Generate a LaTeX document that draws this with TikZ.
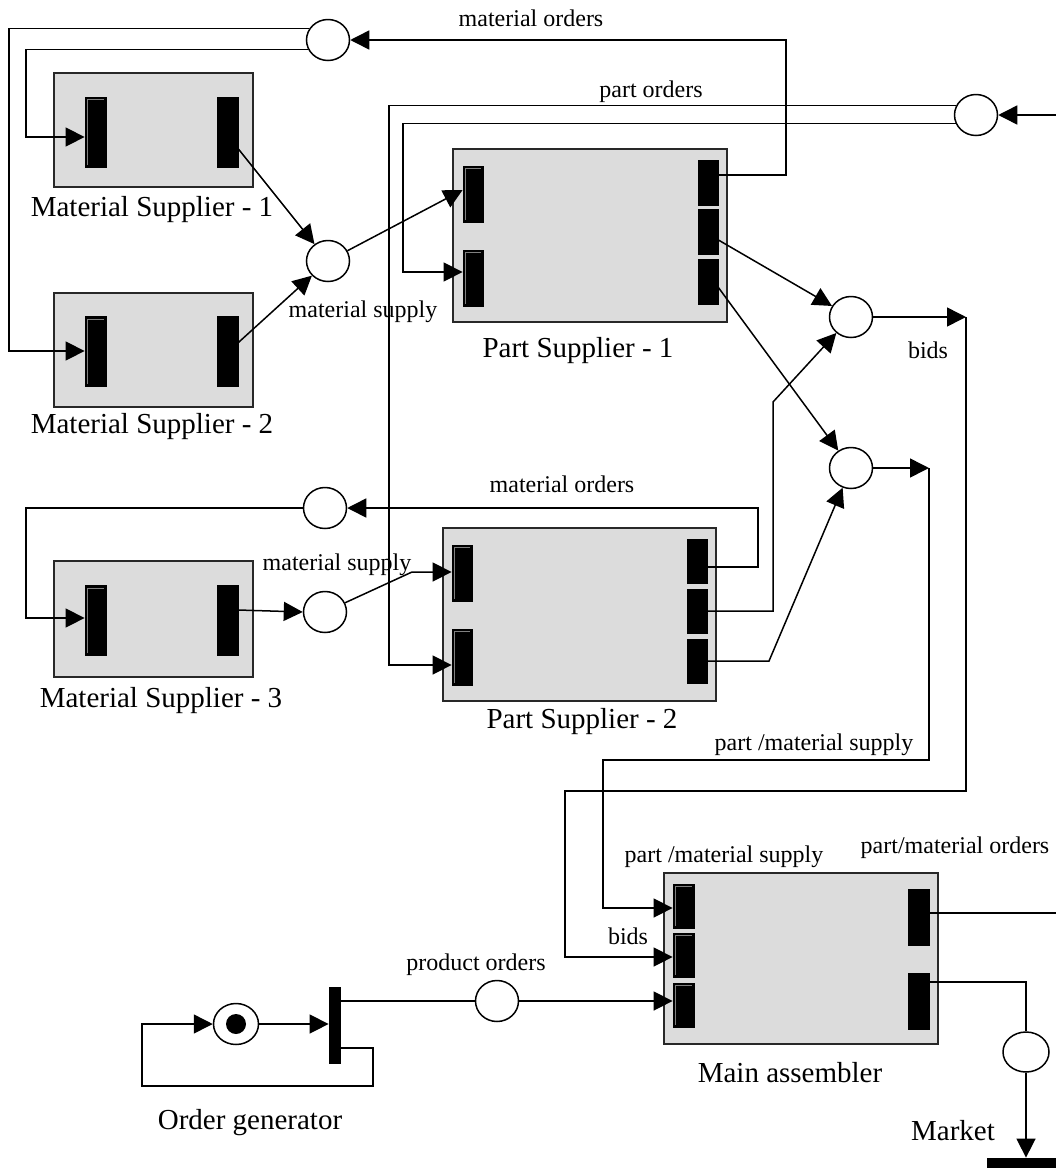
\documentclass[tikz,border=0pt]{standalone}
\usepackage{fontspec}
\setmainfont{Liberation Serif}
\usetikzlibrary{arrows.meta,calc,shapes.geometric}
\definecolor{boxgray}{RGB}{220,220,220}
\definecolor{boxline}{RGB}{40,40,40}
\begin{document}
\begin{tikzpicture}[x=1pt,y=-1pt,
  line width=1.5pt,
  arr/.style={-{Triangle[length=19pt,width=19pt]}},
  box/.style={draw=boxline,fill=boxgray,line width=2pt,inner sep=0pt},
  outbar/.style={fill=black,draw=black,line width=0.8pt,inner sep=0pt,minimum width=20pt},
  inbar/.style={fill=black,draw=black,line width=0.8pt,inner sep=0pt,minimum width=20pt,
    path picture={\draw[gray,line width=0.8pt]
      ([shift={(2.5pt,2.5pt)}]path picture bounding box.south west) |-
      ([shift={(-2.5pt,-2.5pt)}]path picture bounding box.north east);}},
  place/.style={ellipse,draw,fill=white,line width=1.5pt,inner sep=0pt,minimum width=43pt,minimum height=41pt},
  token/.style={circle,fill=black,inner sep=0pt,minimum size=20pt},
  big/.style={font=\fontsize{29}{34}\selectfont,inner sep=0pt,anchor=base},
  small/.style={font=\fontsize{24}{28}\selectfont,inner sep=0pt,anchor=base}]
\useasboundingbox (0,0) rectangle (1056,1168);

% ---------- boxes ----------
\node[box,minimum width=199pt,minimum height=114pt] (ms1) at (153.5,130) {};
\node[box,minimum width=199pt,minimum height=114pt] (ms2) at (153.5,350) {};
\node[box,minimum width=199pt,minimum height=116pt] (ms3) at (153.5,619) {};
\node[box,minimum width=274pt,minimum height=173pt] (ps1) at (590,235.5) {};
\node[box,minimum width=273pt,minimum height=173pt] (ps2) at (579.5,614.5) {};
\node[box,minimum width=274pt,minimum height=171pt] (ma) at (801,958.5) {};

% ---------- bars (transitions) ----------
\node[inbar,minimum width=21pt,minimum height=70pt] (ms1l) at (95.5,132) {};
\node[outbar,minimum width=21pt,minimum height=70pt] (ms1r) at (227.5,132) {};
\node[inbar,minimum width=21pt,minimum height=70pt] (ms2l) at (95.5,351.5) {};
\node[outbar,minimum width=21pt,minimum height=70pt] (ms2r) at (227.5,351.5) {};
\node[inbar,minimum width=21pt,minimum height=70pt] (ms3l) at (95.5,620.5) {};
\node[outbar,minimum width=21pt,minimum height=70pt] (ms3r) at (227.5,620.5) {};

\node[inbar,minimum height=56pt] (ps1l1) at (473,194) {};
\node[inbar,minimum height=56pt] (ps1l2) at (473,278) {};
\node[outbar,minimum height=45pt] (ps1r1) at (708,182.5) {};
\node[outbar,minimum height=45pt] (ps1r2) at (708,232) {};
\node[outbar,minimum height=45pt] (ps1r3) at (708,281.5) {};

\node[inbar,minimum height=56pt] (ps2l1) at (462,573) {};
\node[inbar,minimum height=56pt] (ps2l2) at (462,657) {};
\node[outbar,minimum height=44pt] (ps2r1) at (697,561) {};
\node[outbar,minimum height=44pt] (ps2r2) at (697,611) {};
\node[outbar,minimum height=44pt] (ps2r3) at (697,661) {};

\node[inbar,minimum width=21pt,minimum height=44pt] (mal1) at (683.5,906) {};
\node[inbar,minimum width=21pt,minimum height=44pt] (mal2) at (683.5,955) {};
\node[inbar,minimum width=21pt,minimum height=44pt] (mal3) at (683.5,1005) {};
\node[outbar,minimum width=21pt,minimum height=56pt] (mar1) at (918.5,917) {};
\node[outbar,minimum width=21pt,minimum height=56pt] (mar2) at (918.5,1001) {};

\node[outbar,minimum width=11pt,minimum height=76pt] (tgen) at (334.5,1025) {};
\node[outbar,minimum width=75pt,minimum height=10pt] (market) at (1024.5,1163) {};

% ---------- places ----------
\node[place] (pmo1) at (328,40) {};
\node[place] (pms) at (328,261) {};
\node[place] (ppo) at (976,115) {};
\node[place] (pb1) at (851,317) {};
\node[place] (pb2) at (851,468) {};
\node[place] (pmo2) at (325,508) {};
\node[place] (pms3) at (325,612) {};
\node[place] (pprod) at (497,1001) {};
\node[place,minimum width=46pt,minimum height=40pt] (pout) at (1026,1052) {};
\node[place,minimum width=45pt] (pgen) at (236,1024) {};
\node[token] (tok) at (pgen) {};

% ---------- helper coordinates ----------
\coordinate (o1) at (9,351);
\coordinate (i1) at (26,137);
\coordinate (poo) at (389,665);
\coordinate (poi) at (403,272);
\coordinate (m1a) at (786,175);
\coordinate (c1) at (966,317);
\coordinate (c2) at (565,791);
\coordinate (c3) at (565,957);
\coordinate (d1) at (929,468);
\coordinate (d2) at (603,760);
\coordinate (d3) at (603,908);
\coordinate (k3) at (412,572);
\coordinate (k4) at (773,402);
\coordinate (k5) at (769,661);
\coordinate (k6) at (758,508);
\coordinate (k7) at (26,618);
\coordinate (e1) at (1056,913);
\coordinate (e2) at (1026,982);
\coordinate (e3) at (1056,115);
\coordinate (g1) at (373,1048);
\coordinate (g2) at (142,1086);

% ---------- connectors ----------
% material orders (top)
\draw[arr] (pmo1.148) -| (o1) -- (o1 -| ms2l.west);
\draw[arr] (pmo1.205) -| (i1) -- (i1 -| ms1l.west);
\draw[arr] (m1a -| ps1r1.east) -- (m1a) |- (pmo1.east);
% material supply (top)
\draw[arr] ($(ms1r.east)+(0,17)$) -- (pms);
\draw[arr] ($(ms2r.east)+(0,-9)$) -- (pms);
\draw[arr] (pms) -- ($(ps1l1.west)+(0,-4)$);
% part orders
\draw[arr] (e3) -- (ppo.east);
\draw[arr] (ppo.154) -| (poo) -- (poo -| ps2l2.west);
\draw[arr] (ppo.203) -| (poi) -- (poi -| ps1l2.west);
% bids
\draw[arr] ($(ps1r2.east)+(0,8)$) -- (pb1);
\draw[arr] ($(ps1r3.east)+(0,6)$) -- (pb2);
\draw[arr] (ps2r2.east) -| (k4) -- (pb1);
\draw[arr] (ps2r3.east) -- (k5) -- (pb2);
\draw[arr] (pb1.east) -- (c1);
\draw[arr] (c1) |- (c2) -- (c3) -- (c3 -| mal2.west);
\draw[arr] (pb2.east) -- (d1);
\draw[arr] (d1) |- (d2) -- (d3) -- (d3 -| mal1.west);
% material orders / supply (middle)
\draw[arr] ($(ps2r1.east)+(0,6)$) -| (k6) -- (pmo2.east);
\draw[arr] (pmo2.west) -| (k7) -- (k7 -| ms3l.west);
\draw[arr] (ms3r.east |- 0,610) -- (pms3.west);
\draw[arr] (pms3) -- (k3) -- (k3 -| ps2l1.west);
% main assembler outputs
\draw (e1 -| mar1.east) -- (e1);
\draw (e2 -| mar2.east) -- (e2) -- (pout.north);
\draw[arr] (pout.south) -- (pout.south |- market.north);
% order generator
\draw[arr] (pgen.east) -- (pgen.east -| tgen.west);
\draw (tgen.east |- pprod) -- (pprod.west);
\draw[arr] (pprod.east) -- (pprod.east -| mal3.west);
\draw[arr] (g1 -| tgen.east) -- (g1) |- (g2) |- (pgen.west);

% ---------- labels ----------
\node[small] (lmo1) at (531,26) {material orders};
\node[small] (lpo) at (651,97) {part orders};
\node[big] (lms1) at (152,216) {Material Supplier - 1};
\node[big] (lms2) at (152,433) {Material Supplier - 2};
\node[small] (lmsu1) at (363,317) {material supply};
\node[big] (lps1) at (578,357) {Part Supplier - 1};
\node[small] (lbids1) at (928,358) {bids};
\node[small] (lmo2) at (562,492) {material orders};
\node[small] (lmsu2) at (337,570) {material supply};
\node[big] (lms3) at (161,707) {Material Supplier - 3};
\node[big] (lps2) at (582,728) {Part Supplier - 2};
\node[small] (lpms1) at (814,750) {part /material supply};
\node[small] (lpms2) at (724,862) {part /material supply};
\node[small] (lpmo) at (955,853) {part/material orders};
\node[small] (lbids2) at (628,944) {bids};
\node[small] (lprod) at (476,970) {product orders};
\node[big] (lgen) at (250,1129) {Order generator};
\node[big] (lma) at (790,1082) {Main assembler};
\node[big] (lmkt) at (953,1140) {Market};
\end{tikzpicture}
\end{document}
